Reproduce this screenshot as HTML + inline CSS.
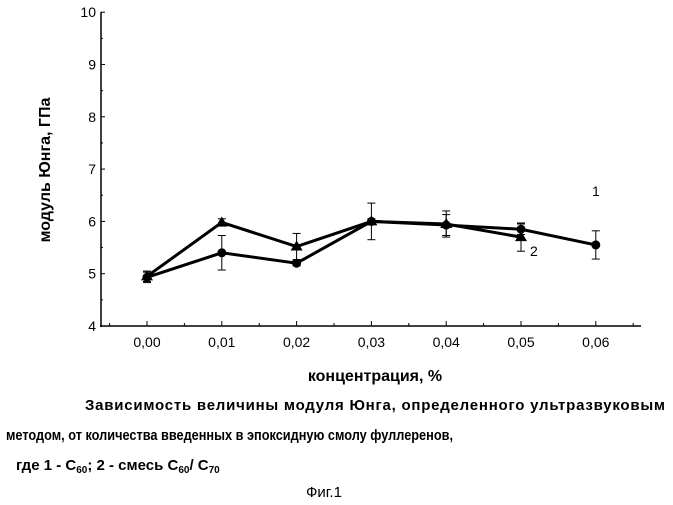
<!DOCTYPE html>
<html><head><meta charset="utf-8"><style>
body{margin:0;background:#fff;width:673px;height:500px;overflow:hidden;font-family:"Liberation Sans",sans-serif}
svg text{font-family:"Liberation Sans",sans-serif;fill:#000}
</style></head><body>
<svg width="673" height="500">
<g id="axes"></g><g id="plot"></g>
<text x="50" y="170" font-size="16" font-weight="bold" text-anchor="middle" transform="rotate(-90 50 170)">модуль Юнга, ГПа</text>
<text x="375" y="381" font-size="16" font-weight="bold" text-anchor="middle">концентрация, %</text>
<text x="85" y="410" font-size="15" font-weight="bold" textLength="580" lengthAdjust="spacing">Зависимость величины модуля Юнга, определенного ультразвуковым</text>
<text x="6" y="440" font-size="15" font-weight="bold" textLength="447" lengthAdjust="spacingAndGlyphs">методом, от количества введенных в эпоксидную смолу фуллеренов,</text>
<text x="16" y="470" font-size="15" font-weight="bold">где 1 - C<tspan font-size="10" dy="3">60</tspan><tspan dy="-3">; 2 - смесь C</tspan><tspan font-size="10" dy="3">60</tspan><tspan dy="-3">/ C</tspan><tspan font-size="10" dy="3">70</tspan></text>
<text x="306" y="497" font-size="15">Фиг.1</text>
</svg>
<script>
const xCats=[0,0.01,0.02,0.03,0.04,0.05,0.06];
const xLabels=["0,00","0,01","0,02","0,03","0,04","0,05","0,06"];
const yTicks=[4,5,6,7,8,9,10];
const s1=[4.93,5.40,5.20,6.00,5.93,5.85,5.55];
const e1=[0.10,0.33,0.05,0.35,0.20,0.10,0.27];
const s2=[4.95,5.98,5.52,6.00,5.95,5.70];
const e2=[0.10,0.07,0.25,0.05,0.25,0.27];
const NS="http://www.w3.org/2000/svg";
const X=v=>147+v*7480, Y=v=>326-(v-4)*52.3;
const ax=document.getElementById('axes'), pl=document.getElementById('plot');
function mk(p,t,a){const e=document.createElementNS(NS,t);for(const k in a)e.setAttribute(k,a[k]);p.appendChild(e);return e;}
let l=mk(ax,'line',{x1:101,y1:12,x2:101,y2:327,stroke:'#000','stroke-width':1.5});


l=mk(ax,'line',{x1:100,y1:326,x2:641,y2:326,stroke:'#000','stroke-width':1.5});


yTicks.forEach((v,i)=>{
  mk(ax,'line',{x1:101,y1:Y(v),x2:105,y2:Y(v),stroke:'#000'});
  if(i<yTicks.length-1) mk(ax,'line',{x1:101,y1:Y(v+0.5),x2:103,y2:Y(v+0.5),stroke:'#000'});
  const t=mk(ax,'text',{x:96,y:Y(v)+5,'font-size':14,'text-anchor':'end'});t.textContent=v;
  
  
});
xCats.forEach((v,i)=>{
  mk(ax,'line',{x1:X(v),y1:326,x2:X(v),y2:321,stroke:'#000'});
  mk(ax,'line',{x1:X(v)+37.4,y1:326,x2:X(v)+37.4,y2:323,stroke:'#000'});
  const t=mk(ax,'text',{x:X(v),y:347,'font-size':14,'text-anchor':'middle'});t.textContent=xLabels[i];
  
  
});
mk(ax,'line',{x1:X(0)-37.4,y1:326,x2:X(0)-37.4,y2:323,stroke:'#000'});
function series(vals,errs,tri,name){
  const pts=vals.map((v,i)=>X(xCats[i])+','+Y(v)).join(' ');
  const pl2=mk(pl,'polyline',{points:pts,fill:'none',stroke:'#000','stroke-width':3});
  
  
  vals.forEach((v,i)=>{
    const x=X(xCats[i]);
    mk(pl,'line',{x1:x,y1:Y(v-errs[i]),x2:x,y2:Y(v+errs[i]),stroke:'#000'});
    mk(pl,'line',{x1:x-4,y1:Y(v-errs[i]),x2:x+4,y2:Y(v-errs[i]),stroke:'#000'});
    mk(pl,'line',{x1:x-4,y1:Y(v+errs[i]),x2:x+4,y2:Y(v+errs[i]),stroke:'#000'});
    const y=Y(v);
    const m=tri?mk(pl,'polygon',{points:`${x},${y-6} ${x-6},${y+4} ${x+6},${y+4}`}):mk(pl,'circle',{cx:x,cy:y,r:4.5});
    
    
  });
}
series(s2,e2,true,'series-2');
series(s1,e1,false,'series-1');
let t=mk(pl,'text',{x:592,y:196,'font-size':14});t.textContent='1';


t=mk(pl,'text',{x:530,y:256,'font-size':14});t.textContent='2';


</script>
</body></html>
